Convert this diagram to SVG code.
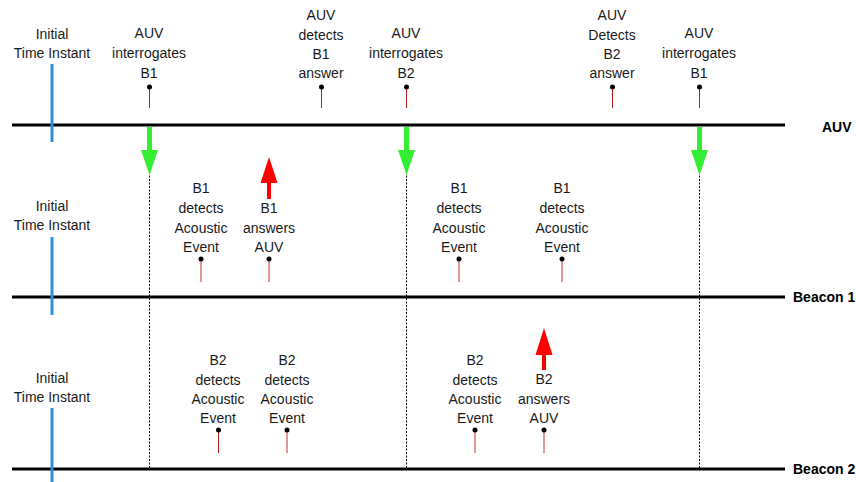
<svg xmlns="http://www.w3.org/2000/svg" width="856" height="482" viewBox="0 0 856 482">
<style>
text{font-family:"Liberation Sans",Arial,sans-serif;font-size:14px;fill:#1a1a1a;text-anchor:middle}
.lbl{font-weight:bold;text-anchor:start;fill:#000}
.axis{stroke:#000;stroke-width:3}
.blue{stroke:#2f8fdc;stroke-width:3}
.dot{stroke:#000;stroke-width:1;stroke-dasharray:2,1.5;fill:none}
.stem{stroke:#b81c1c;stroke-width:1}
.stem2{stroke:#d86a6a;stroke-width:1.4}
.pin{fill:#000}
</style>
<rect width="856" height="482" fill="#fff"/>
<g id="connectors">
<line class="dot" x1="149.5" y1="172" x2="149.5" y2="468"/>
<line class="dot" x1="406.5" y1="172" x2="406.5" y2="468"/>
<line class="dot" x1="699.5" y1="172" x2="699.5" y2="468"/>
<g fill="#33ee33">
<rect x="147" y="127" width="5" height="25"/><polygon points="141,150 158,150 149.5,175"/>
<rect x="404" y="127" width="5" height="25"/><polygon points="398,150 415,150 406.5,175"/>
<rect x="697" y="127" width="5" height="25"/><polygon points="691,150 708,150 699.5,175"/>
</g>
<g fill="#ff0000">
<rect x="267" y="180" width="4" height="19"/><polygon points="260.5,183 277.5,183 269,157"/>
<rect x="542" y="352" width="4" height="18"/><polygon points="535.5,355 552.5,355 544,328"/>
</g>
</g>
<g id="auv-axis">
<line class="axis" x1="12" y1="125" x2="785" y2="125"/>
<text class="lbl" x="822" y="132">AUV</text>
</g>
<g id="beacon1-axis">
<line class="axis" x1="12" y1="297" x2="785" y2="297"/>
<text class="lbl" x="793" y="302">Beacon 1</text>
</g>
<g id="beacon2-axis">
<line class="axis" x1="12" y1="469" x2="785" y2="469"/>
<text class="lbl" x="793" y="474">Beacon 2</text>
</g>
<g id="init-auv">
<line class="blue" x1="52" y1="64" x2="52" y2="142"/>
<text x="52" y="39">Initial</text><text x="52" y="58">Time Instant</text>
</g>
<g id="init-b1">
<line class="blue" x1="52" y1="237" x2="52" y2="315"/>
<text x="52" y="211">Initial</text><text x="52" y="230">Time Instant</text>
</g>
<g id="init-b2">
<line class="blue" x1="52" y1="408" x2="52" y2="482"/>
<text x="52" y="383">Initial</text><text x="52" y="402">Time Instant</text>
</g>
<g id="auv-e1">
<text x="149" y="38">AUV</text><text x="149" y="58">interrogates</text><text x="149" y="78">B1</text>
<line class="stem" x1="149.5" y1="87" x2="149.5" y2="108"/><circle class="pin" cx="149.5" cy="87" r="2.5"/>
</g>
<g id="auv-e2">
<text x="321" y="20">AUV</text><text x="321" y="39.5">detects</text><text x="321" y="59">B1</text><text x="321" y="78">answer</text>
<line class="stem" x1="321.5" y1="87" x2="321.5" y2="108"/><circle class="pin" cx="321.5" cy="87" r="2.5"/>
</g>
<g id="auv-e3">
<text x="406" y="38">AUV</text><text x="406" y="58">interrogates</text><text x="406" y="78">B2</text>
<line class="stem" x1="406.5" y1="87" x2="406.5" y2="108"/><circle class="pin" cx="406.5" cy="87" r="2.5"/>
</g>
<g id="auv-e4">
<text x="612" y="20">AUV</text><text x="612" y="39.5">Detects</text><text x="612" y="59">B2</text><text x="612" y="78">answer</text>
<line class="stem" x1="612.5" y1="87" x2="612.5" y2="108"/><circle class="pin" cx="612.5" cy="87" r="2.5"/>
</g>
<g id="auv-e5">
<text x="699" y="38">AUV</text><text x="699" y="58">interrogates</text><text x="699" y="78">B1</text>
<line class="stem" x1="699.5" y1="87" x2="699.5" y2="108"/><circle class="pin" cx="699.5" cy="87" r="2.5"/>
</g>
<g id="b1-e1">
<text x="201" y="193">B1</text><text x="201" y="213">detects</text><text x="201" y="233">Acoustic</text><text x="201" y="252">Event</text>
<line class="stem2" x1="201" y1="259" x2="201" y2="282"/><circle class="pin" cx="201" cy="259" r="2.5"/>
</g>
<g id="b1-e2">
<text x="269" y="213">B1</text><text x="269" y="233">answers</text><text x="269" y="252">AUV</text>
<line class="stem2" x1="269" y1="259" x2="269" y2="282"/><circle class="pin" cx="269" cy="259" r="2.5"/>
</g>
<g id="b1-e3">
<text x="459" y="193">B1</text><text x="459" y="213">detects</text><text x="459" y="233">Acoustic</text><text x="459" y="252">Event</text>
<line class="stem2" x1="459" y1="259" x2="459" y2="282"/><circle class="pin" cx="459" cy="259" r="2.5"/>
</g>
<g id="b1-e4">
<text x="562" y="193">B1</text><text x="562" y="213">detects</text><text x="562" y="233">Acoustic</text><text x="562" y="252">Event</text>
<line class="stem2" x1="562" y1="259" x2="562" y2="282"/><circle class="pin" cx="562" cy="259" r="2.5"/>
</g>
<g id="b2-e1">
<text x="218" y="365">B2</text><text x="218" y="385">detects</text><text x="218" y="404">Acoustic</text><text x="218" y="423">Event</text>
<line class="stem" x1="218.5" y1="430" x2="218.5" y2="453"/><circle class="pin" cx="218.5" cy="430" r="2.5"/>
</g>
<g id="b2-e2">
<text x="287" y="365">B2</text><text x="287" y="385">detects</text><text x="287" y="404">Acoustic</text><text x="287" y="423">Event</text>
<line class="stem2" x1="287" y1="430" x2="287" y2="453"/><circle class="pin" cx="287" cy="430" r="2.5"/>
</g>
<g id="b2-e3">
<text x="475" y="365">B2</text><text x="475" y="385">detects</text><text x="475" y="404">Acoustic</text><text x="475" y="423">Event</text>
<line class="stem2" x1="475" y1="430" x2="475" y2="453"/><circle class="pin" cx="475" cy="430" r="2.5"/>
</g>
<g id="b2-e4">
<text x="544" y="384">B2</text><text x="544" y="404">answers</text><text x="544" y="423">AUV</text>
<line class="stem2" x1="544" y1="430" x2="544" y2="453"/><circle class="pin" cx="544" cy="430" r="2.5"/>
</g>
</svg>
